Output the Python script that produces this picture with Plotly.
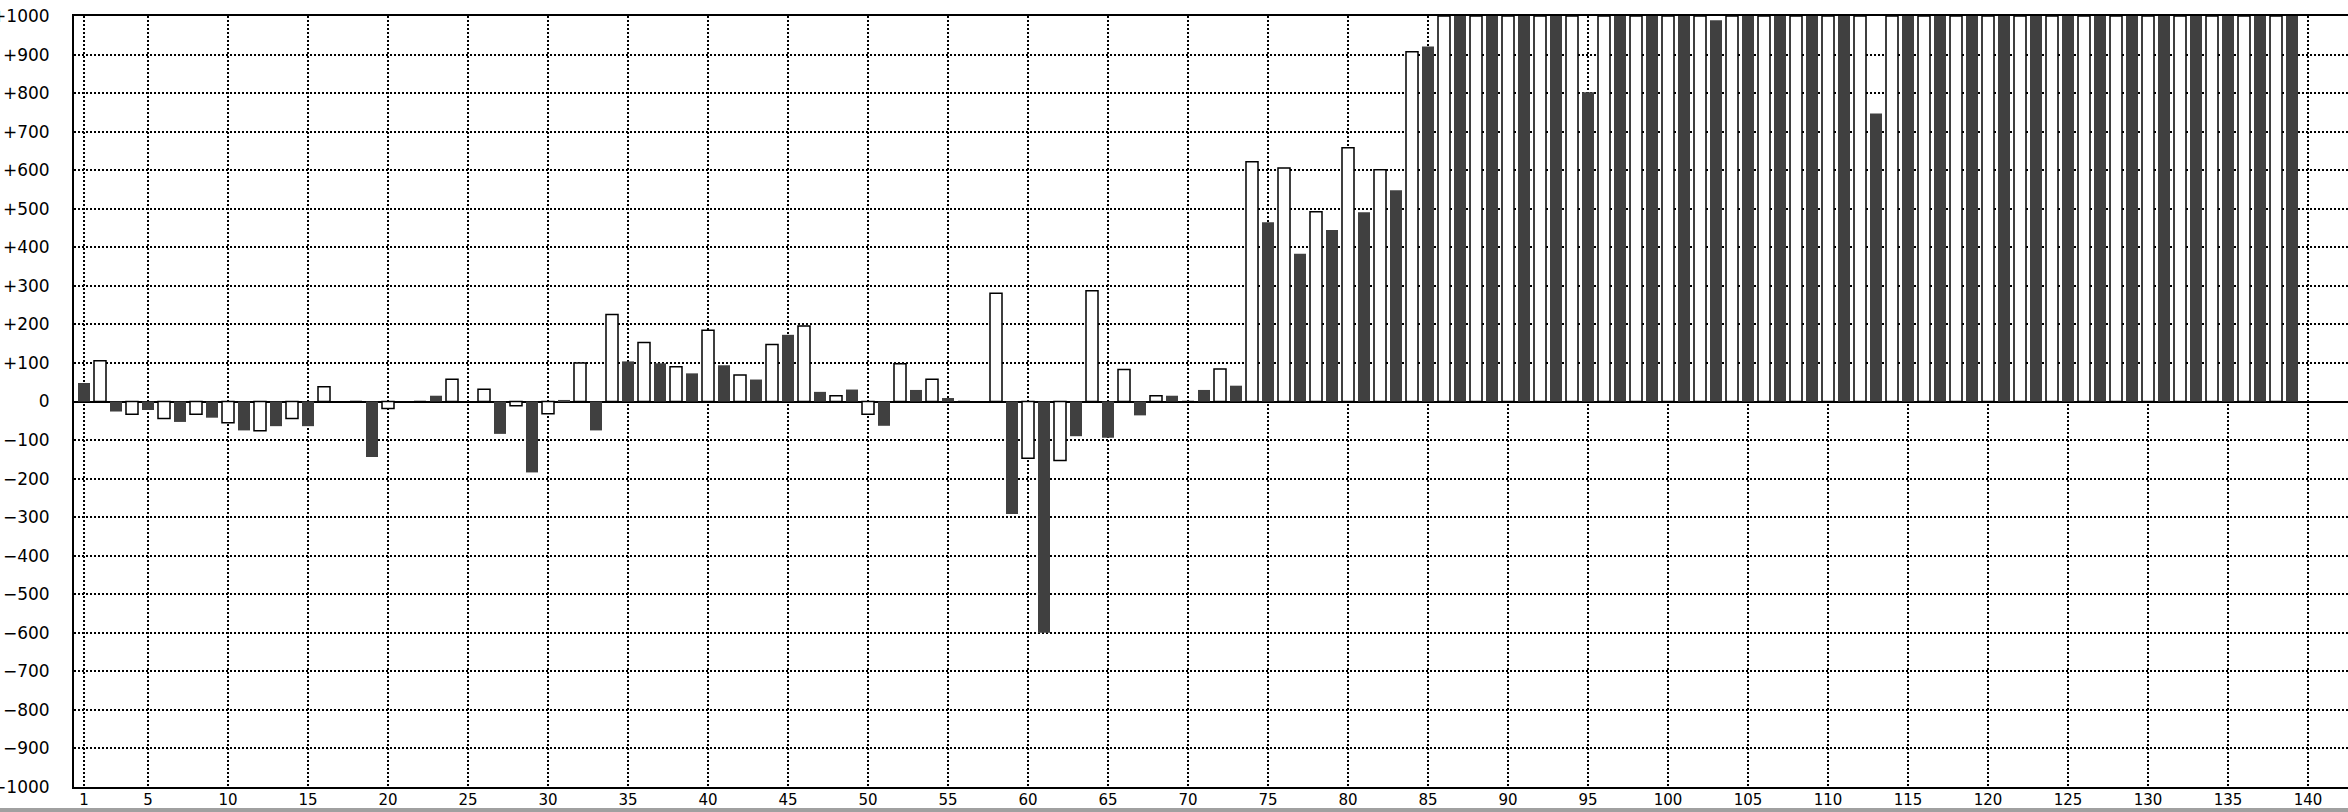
import plotly.graph_objects as go

# Dark (filled) series at odd positions
dark_x = list(range(1, 140, 2))
dark_vals = [
    48, -26, -22, -53, -42, -75, -64, -64, 0, -144,          # 1..19
    0, 15, 0, -84, -184, 4, -75, 104, 99, 73,                 # 21..39
    94, 57, 173, 25, 31, -63, 30, 9, 0, -292,                 # 41..59
    -600, -90, -94, -36, 15, 30, 41, 465, 383, 445,           # 61..79
    491, 548, 921, 1000, 1000, 1000, 1000, 802, 1000, 1000,   # 81..99
    1000, 989, 1000, 1000, 1000, 1000, 747, 1000, 1000, 1000, # 101..119
    1000, 1000, 1000, 1000, 1000, 1000, 1000, 1000, 1000, 1000 # 121..139
]

# White (outlined) series at even positions
white_x = list(range(2, 139, 2))
white_vals = [
    106, -33, -44, -33, -55, -76, -44, 38, 0, -18,            # 2..20
    0, 58, 32, -11, -32, 100, 226, 153, 90, 185,              # 22..40
    69, 148, 196, 15, -33, 98, 58, 0, 281, -147,              # 42..60
    -153, 287, 83, 15, 0, 84, 622, 606, 492, 658,             # 62..80
    601, 907, 1000, 1000, 1000, 1000, 1000, 1000, 1000, 1000, # 82..100
    1000, 1000, 1000, 1000, 1000, 1000, 1000, 1000, 1000, 1000, # 102..120
    1000, 1000, 1000, 1000, 1000, 1000, 1000, 1000, 1000      # 122..138
]

x_ticks = [1] + list(range(5, 141, 5))
y_ticks = list(range(-1000, 1001, 100))
y_labels = [("+" + str(v)) if v > 0 else ("0" if v == 0 else "\u2212" + str(-v)) for v in y_ticks]

FONT = "DejaVu Sans"

fig = go.Figure()
fig.add_trace(go.Bar(
    x=dark_x, y=dark_vals, width=0.75,
    marker=dict(color="#404040", line=dict(width=0)),
    showlegend=False, hoverinfo="x+y",
))
fig.add_trace(go.Bar(
    x=white_x, y=white_vals, width=0.75,
    marker=dict(color="#ffffff", line=dict(color="#000000", width=1.5)),
    showlegend=False, hoverinfo="x+y",
))

fig.update_layout(
    width=2348, height=812,
    margin=dict(l=74, r=0, t=16, b=25, pad=0, autoexpand=False),
    plot_bgcolor="#ffffff", paper_bgcolor="#ffffff",
    barmode="overlay",
    font=dict(family=FONT, size=16, color="#000000"),
    xaxis=dict(
        range=[0.375, 142.5], automargin=False,
        tickmode="array", tickvals=x_ticks, ticktext=[str(t) for t in x_ticks],
        showgrid=True, gridcolor="#000000", gridwidth=2, griddash="2px,2px",
        showline=True, linecolor="#000000", linewidth=2, mirror=True,
        ticks="", zeroline=False,
        tickfont=dict(family=FONT, size=15, color="#000000"),
        ticklabelstandoff=-2,
    ),
    yaxis=dict(
        range=[-1000, 1000], automargin=False,
        tickmode="array", tickvals=y_ticks, ticktext=y_labels,
        showgrid=True, gridcolor="#000000", gridwidth=2, griddash="2px,2px",
        showline=True, linecolor="#000000", linewidth=2, mirror=False,
        zeroline=True, zerolinecolor="#000000", zerolinewidth=2,
        ticks="",
        tickfont=dict(family=FONT, size=17, color="#000000"),
        ticklabelstandoff=19,
    ),
    shapes=[dict(
        type="rect", xref="paper", yref="paper",
        x0=-0.05, x1=1.01, y0=-0.0340, y1=-0.0272,
        fillcolor="#a0a0a0", line=dict(width=0), layer="above",
    )],
)

fig.write_html(
    "out.html",
    config={"displayModeBar": False},
    post_script="document.body.style.margin='0';document.body.style.overflow='hidden';",
)
